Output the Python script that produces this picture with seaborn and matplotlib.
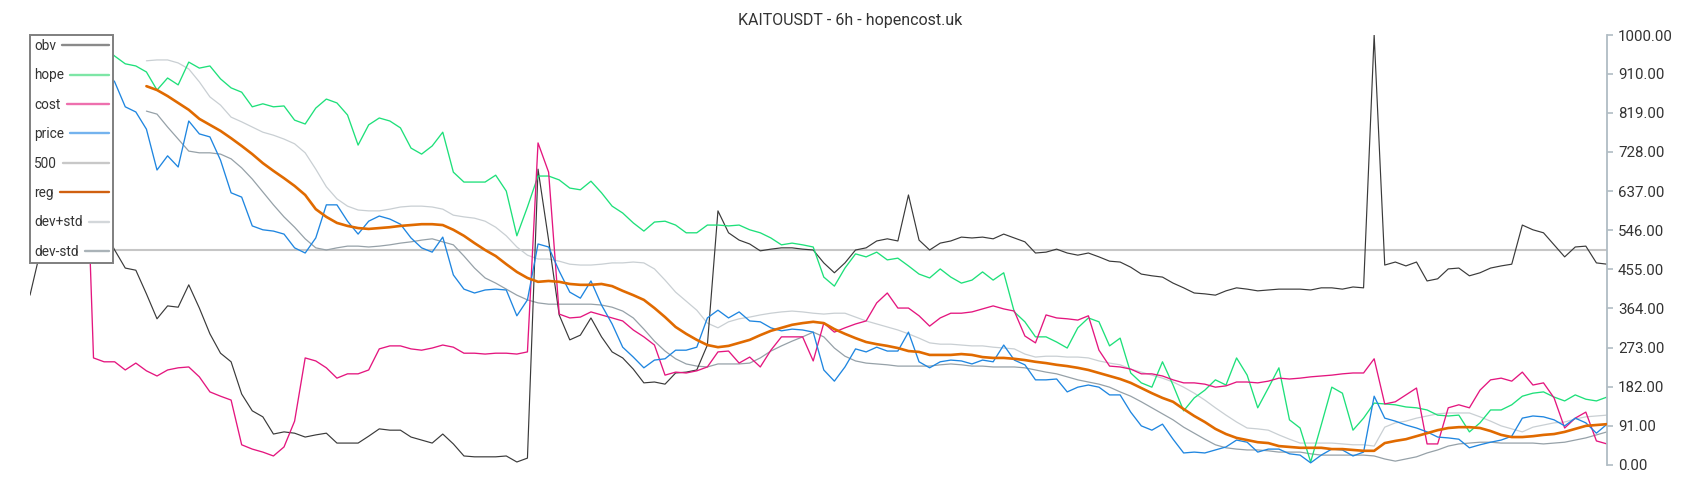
import numpy as np
import matplotlib
matplotlib.use("Agg")
import matplotlib.pyplot as plt
import seaborn as sns

title = "KAITOUSDT - 6h - hopencost.uk"

obv = [395, 500, 558, 581, 593, 570, 558, 547, 500, 458,
       453, 398, 340, 370, 367, 419, 365, 305, 260, 240,
       165, 126, 112, 72, 77, 74, 65, 70, 74, 51,
       51, 51, 67, 84, 81, 81, 65, 58, 51, 72,
       49, 21, 19, 19, 19, 21, 7, 16, 688, 523,
       349, 291, 302, 342, 298, 263, 249, 223, 191, 193,
       188, 214, 216, 221, 279, 591, 540, 523, 514, 498,
       502, 505, 505, 502, 500, 470, 447, 470, 500, 505,
       521, 526, 521, 628, 523, 500, 516, 521, 530, 528,
       530, 526, 537, 528, 519, 493, 495, 502, 493, 488,
       493, 484, 474, 472, 460, 444, 440, 437, 423, 412,
       400, 398, 395, 405, 412, 409, 405, 407, 409, 409,
       409, 407, 412, 412, 409, 414, 412, 1000, 465, 472,
       463, 472, 428, 433, 456, 458, 440, 447, 458, 463,
       467, 558, 547, 540, 512, 484, 507, 509, 470, 467]

hope = [955, 962, 970, 978, 990, 1000, 985, 972, 951, 933,
        928, 914, 872, 900, 884, 937, 923, 928, 898, 877,
        867, 833, 840, 833, 835, 802, 793, 830, 851, 842,
        814, 744, 791, 807, 800, 784, 737, 723, 742, 774,
        681, 658, 658, 658, 674, 637, 533, 600, 672, 672,
        663, 644, 640, 660, 633, 602, 586, 563, 544, 565,
        567, 558, 540, 540, 558, 558, 556, 558, 547, 540,
        528, 512, 516, 512, 507, 437, 416, 458, 491, 484,
        495, 477, 481, 463, 444, 435, 456, 437, 423, 430,
        449, 430, 447, 356, 333, 298, 298, 286, 272, 319,
        342, 333, 277, 295, 214, 191, 181, 240, 186, 126,
        156, 174, 198, 186, 249, 209, 133, 179, 226, 105,
        86, 7, 93, 181, 167, 81, 109, 144, 142, 140,
        135, 133, 128, 116, 114, 116, 77, 98, 128, 128,
        140, 160, 167, 170, 158, 149, 163, 153, 149, 158]

cost = [942, 953, 965, 985, 998, 975, 249, 240, 240, 221,
        237, 219, 207, 221, 226, 228, 205, 170, 160, 151,
        47, 37, 30, 21, 42, 102, 249, 242, 226, 202,
        212, 212, 221, 270, 277, 277, 270, 267, 272, 279,
        274, 260, 260, 258, 260, 260, 258, 263, 749, 681,
        351, 342, 344, 356, 349, 342, 335, 314, 298, 279,
        209, 216, 214, 219, 228, 263, 265, 237, 251, 228,
        267, 298, 298, 298, 242, 330, 309, 319, 328, 335,
        377, 400, 365, 365, 347, 323, 342, 353, 353, 356,
        363, 370, 363, 358, 300, 284, 349, 342, 340, 337,
        347, 267, 230, 228, 223, 212, 212, 207, 198, 191,
        191, 188, 181, 184, 193, 193, 191, 195, 202, 200,
        202, 205, 207, 209, 212, 214, 214, 247, 142, 147,
        163, 179, 49, 49, 133, 140, 133, 174, 198, 202,
        195, 216, 186, 191, 156, 86, 109, 123, 56, 49]

price = [977, 970, 965, 958, 953, 947, 937, 923, 891, 833,
         821, 781, 686, 719, 693, 800, 770, 763, 709, 633,
         623, 556, 547, 544, 537, 505, 493, 528, 605, 605,
         567, 537, 567, 579, 572, 560, 528, 505, 495, 530,
         442, 409, 400, 407, 409, 407, 347, 384, 514, 507,
         451, 402, 388, 428, 372, 328, 274, 251, 226, 244,
         247, 267, 267, 274, 342, 360, 342, 356, 335, 333,
         319, 312, 316, 314, 309, 221, 195, 228, 270, 263,
         274, 265, 265, 309, 240, 226, 240, 244, 242, 235,
         244, 240, 279, 244, 233, 198, 198, 200, 170, 181,
         186, 181, 163, 163, 123, 91, 81, 95, 60, 28,
         30, 28, 35, 42, 58, 53, 30, 37, 37, 26,
         23, 5, 23, 37, 35, 21, 30, 160, 109, 102,
         93, 86, 77, 65, 63, 60, 40, 47, 53, 58,
         67, 109, 114, 112, 105, 91, 109, 98, 74, 95]

level_500 = 500

reg = [881, 872, 858, 842, 826, 805, 791, 777, 760,
       742, 723, 702, 684, 667, 649, 628, 595, 577, 563,
       556, 551, 549, 551, 553, 556, 558, 560, 560, 558,
       547, 533, 516, 500, 486, 467, 449, 435, 426, 428,
       426, 421, 419, 419, 421, 416, 405, 395, 384, 365,
       344, 321, 305, 291, 279, 274, 277, 284, 291, 302,
       312, 319, 326, 330, 333, 330, 316, 305, 295, 286,
       281, 277, 272, 265, 263, 256, 256, 256, 258, 256,
       251, 249, 249, 247, 244, 240, 237, 233, 230, 226,
       221, 214, 207, 200, 191, 179, 167, 156, 147, 130,
       114, 100, 84, 72, 63, 58, 53, 51, 44, 42,
       40, 40, 40, 37, 37, 35, 33, 33, 51, 56,
       60, 67, 74, 81, 86, 88, 88, 86, 79, 70,
       65, 65, 67, 70, 72, 77, 84, 91, 93, 95]

dev_plus = [940, 942, 942, 935, 921, 891, 856, 837, 809,
            798, 786, 774, 767, 758, 747, 726, 688, 647, 619,
            602, 593, 591, 591, 595, 600, 602, 602, 600, 595,
            581, 577, 574, 567, 553, 533, 507, 488, 479, 479,
            474, 467, 465, 465, 467, 470, 470, 472, 470, 456,
            430, 402, 381, 360, 330, 319, 333, 340, 344, 349,
            353, 356, 358, 356, 353, 351, 353, 353, 344, 335,
            328, 321, 314, 305, 295, 284, 281, 281, 279, 277,
            277, 274, 272, 270, 258, 251, 253, 253, 251, 251,
            249, 242, 237, 233, 223, 216, 209, 202, 193, 181,
            167, 151, 133, 116, 100, 86, 84, 81, 70, 60,
            51, 51, 51, 51, 49, 47, 47, 44, 88, 98,
            102, 109, 114, 119, 121, 121, 121, 112, 102, 91,
            84, 77, 88, 93, 98, 100, 107, 112, 114, 116]

dev_minus = [823, 816, 786, 758, 730, 726, 726, 723, 712,
             691, 665, 635, 605, 577, 553, 526, 505, 500, 505,
             509, 509, 507, 509, 512, 516, 519, 523, 526, 519,
             512, 486, 458, 435, 423, 409, 395, 384, 377, 374,
             374, 374, 374, 374, 372, 367, 358, 342, 316, 288,
             265, 247, 235, 230, 228, 235, 235, 235, 237, 249,
             265, 277, 288, 298, 309, 298, 272, 253, 242, 237,
             235, 233, 230, 230, 230, 230, 233, 235, 233, 230,
             230, 228, 228, 228, 226, 221, 216, 212, 205, 198,
             193, 188, 181, 170, 160, 147, 133, 119, 105, 88,
             74, 60, 47, 40, 37, 35, 35, 33, 30, 30,
             30, 26, 23, 23, 23, 23, 23, 21, 14, 9,
             14, 19, 28, 35, 44, 49, 51, 53, 53, 51,
             51, 51, 51, 49, 51, 53, 58, 63, 70, 77]

tick_values = [0, 91, 182, 273, 364, 455, 546, 637, 728, 819, 910, 1000]
legend_order = ["obv", "hope", "cost", "price", "500", "reg", "dev+std", "dev-std"]

sns.set_theme(style="white")
plt.rcParams["font.family"] = ["Roboto", "DejaVu Sans"]

fig = plt.figure(figsize=(17, 5), dpi=100)
ax = fig.add_axes([30 / 1700, 35 / 500, 1577 / 1700, 430 / 500])

n = len(obv)
idx = np.arange(n)
sidx = idx[n - len(reg):]

ax.axhline(level_500, color="#c6c6c6", lw=1.5, label="500", zorder=1.5)

specs = [
    ("dev+std", sidx, dev_plus, "#c9cfd3", 0.9, 2.0),
    ("dev-std", sidx, dev_minus, "#96a1a8", 0.9, 2.0),
    ("obv", idx, obv, "#3a3a3a", 0.85, 2.5),
    ("hope", idx, hope, "#1ee07a", 0.95, 2.5),
    ("cost", idx, cost, "#e4167f", 0.95, 2.5),
    ("price", idx, price, "#1f86e0", 0.95, 2.5),
    ("reg", sidx, reg, "#e06a00", 1.9, 3.0),
]
for name, xs, ys, col, lw, z in specs:
    sns.lineplot(x=xs, y=ys, ax=ax, color=col, linewidth=lw, label=name,
                 estimator=None, sort=False, zorder=z)

ax.set_xlim(0, n - 1)
ax.set_ylim(0, 1000)
ax.set_xticks([])
ax.set_xlabel("")
ax.set_ylabel("")
ax.yaxis.tick_right()
ax.set_yticks(tick_values)
ax.set_yticklabels([f"{v:.2f}" for v in tick_values])
ax.tick_params(axis="y", which="major", right=True, left=False, length=4, width=1.2,
               color="#b0bcc4", labelsize=10.8, labelcolor="#333333", pad=4)
for s in ["top", "left", "bottom"]:
    ax.spines[s].set_visible(False)
ax.spines["right"].set_color("#b0bcc4")
ax.spines["right"].set_linewidth(1.3)

handles, labels = ax.get_legend_handles_labels()
hd = dict(zip(labels, handles))
leg = ax.legend([hd[k] for k in legend_order], legend_order, loc="upper left",
                bbox_to_anchor=(0, 1), borderaxespad=0, markerfirst=False,
                fontsize=9.8, frameon=True, fancybox=False, edgecolor="#7f7f7f",
                framealpha=1, facecolor="white", handlelength=1.45, handletextpad=0.45,
                borderpad=0.3, labelspacing=1.13, labelcolor="#333333")
leg.get_frame().set_linewidth(1.4)
leg.set_zorder(10)
for col in leg._legend_handle_box.get_children():
    col.align = "left"

legend_colors = {"obv": "#8a8a8a", "hope": "#7de6a6", "cost": "#ee70ae", "price": "#74b3ee",
                 "500": "#c8c8c8", "reg": "#d06010", "dev+std": "#d3d7da", "dev-std": "#aab3b8"}
fig.canvas.draw()
r = fig.canvas.get_renderer()
texts = leg.get_texts()
widths = [t.get_window_extent(r).width for t in texts]
mw = max(widths)
for line, name, w in zip(leg.get_lines(), legend_order, widths):
    line.set_color(legend_colors[name])
    line.set_linewidth(1.7)
    xd = np.asarray(line.get_xdata(), dtype=float)
    yd = np.asarray(line.get_ydata(), dtype=float)
    line.set_data([xd.min(), xd.max() + (mw - w) * 72 / fig.dpi], [yd[0], yd[0]])

fig.text(0.5, 1 - 21 / 500, title, ha="center", va="center", fontsize=11.5, color="#333333")

fig.savefig("out.png", dpi=100)
